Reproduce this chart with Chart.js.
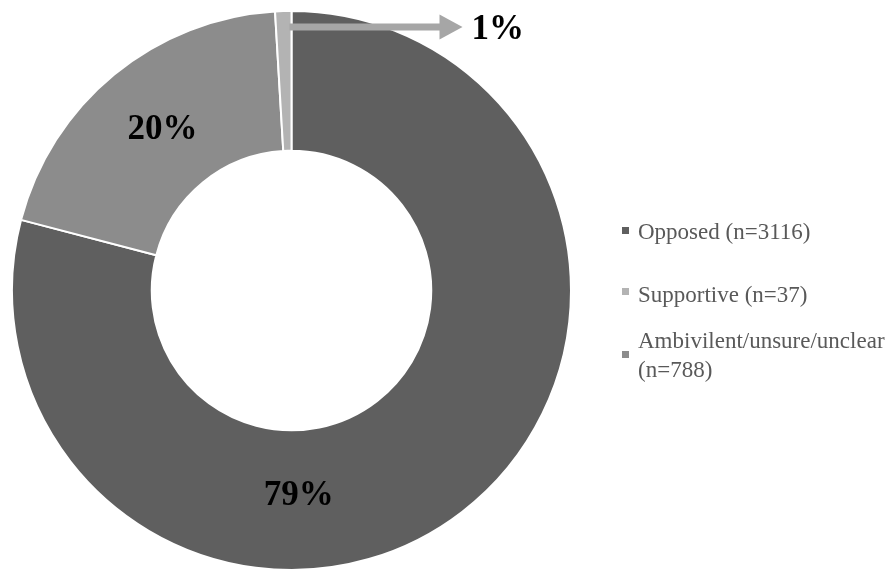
<!DOCTYPE html>
<html>
<head>
<meta charset="utf-8">
<script src="https://cdn.jsdelivr.net/npm/chart.js@4.4.1/dist/chart.umd.min.js"></script>
<style>
  html, body { margin: 0; padding: 0; background: #ffffff; }
  #wrap { width: 896px; height: 571px; position: relative; }
</style>
</head>
<body>
<div id="wrap"><canvas id="c" width="896" height="571"></canvas></div>
<script>
// Data (drawing order clockwise from 12 o'clock)
const categories = ['Opposed (n=3116)', 'Ambivilent/unsure/unclear (n=788)', 'Supportive (n=37)'];
const values = [3116, 788, 37];
const colors = ['#5f5f5f', '#8c8c8c', '#b3b3b3'];
// Legend order as shown in the reference
const legendOrder = [0, 2, 1];
const legendLines = [['Opposed (n=3116)'], ['Ambivilent/unsure/unclear', '(n=788)'], ['Supportive (n=37)']];

const total = values.reduce((a, b) => a + b, 0);
const pctLabels = values.map(v => Math.round(v / total * 100) + '%');

const overlay = {
  id: 'overlay',
  afterDatasetsDraw(chart) {
    const ctx = chart.ctx;
    const meta = chart.getDatasetMeta(0);
    const a0 = meta.data[0];
    const cx = a0.x, cy = a0.y;
    const outerR = a0.outerRadius, innerR = a0.innerRadius;
    const midR = (outerR + innerR) / 2;

    ctx.save();
    ctx.fillStyle = '#000000';
    ctx.font = 'bold 35px "Liberation Serif", "Times New Roman", serif';
    ctx.textAlign = 'center';
    ctx.textBaseline = 'middle';

    // Opposed label: placed at bottom of ring
    const angOpp = Math.PI / 2 - 0.03;
    ctx.fillText(pctLabels[0], cx + midR * Math.cos(angOpp) + 1, cy + (midR - 6) * Math.sin(angOpp) + 2);

    // Ambivalent label: arc centroid
    const c1 = meta.data[1].getCenterPoint();
    ctx.fillText(pctLabels[1], c1.x + 4, c1.y + 2);

    // Supportive: arrow from slice to label
    const ay = cy - outerR + 16;
    const ax0 = cx - 2;
    const ax1 = cx + 171;
    ctx.fillStyle = '#a6a6a6';
    ctx.fillRect(ax0, ay - 3.5, ax1 - 22 - ax0, 7);
    ctx.beginPath();
    ctx.moveTo(ax1 - 23, ay - 12.5);
    ctx.lineTo(ax1, ay);
    ctx.lineTo(ax1 - 23, ay + 12.5);
    ctx.closePath();
    ctx.fill();

    ctx.fillStyle = '#000000';
    ctx.textAlign = 'left';
    ctx.fillText(pctLabels[2], ax1 + 9, ay + 3);

    // Legend
    ctx.font = '23px "Liberation Serif", "Times New Roman", serif';
    ctx.textBaseline = 'alphabetic';
    const lx = 622, tx = 638;
    const rowBase = [239, 302, 348];
    const markerY = [230, 291, 354];
    const lineH = 29;
    legendOrder.forEach((idx, row) => {
      ctx.fillStyle = colors[idx];
      ctx.fillRect(lx, markerY[row] - 3, 7, 7);
      ctx.fillStyle = '#595959';
      legendLines[idx].forEach((t, li) => {
        ctx.fillText(t, tx, rowBase[row] + li * lineH);
      });
    });
    ctx.restore();
  }
};

new Chart(document.getElementById('c'), {
  type: 'doughnut',
  data: {
    labels: categories,
    datasets: [{
      data: values,
      backgroundColor: colors,
      borderColor: '#ffffff',
      borderWidth: 2,
      hoverOffset: 0
    }]
  },
  options: {
    responsive: false,
    animation: false,
    cutout: '50%',
    rotation: 0,
    layout: { padding: { left: 11, top: 10, right: 324, bottom: 0 } },
    plugins: {
      legend: { display: false },
      tooltip: { enabled: false }
    }
  },
  plugins: [overlay]
});
</script>
</body>
</html>
